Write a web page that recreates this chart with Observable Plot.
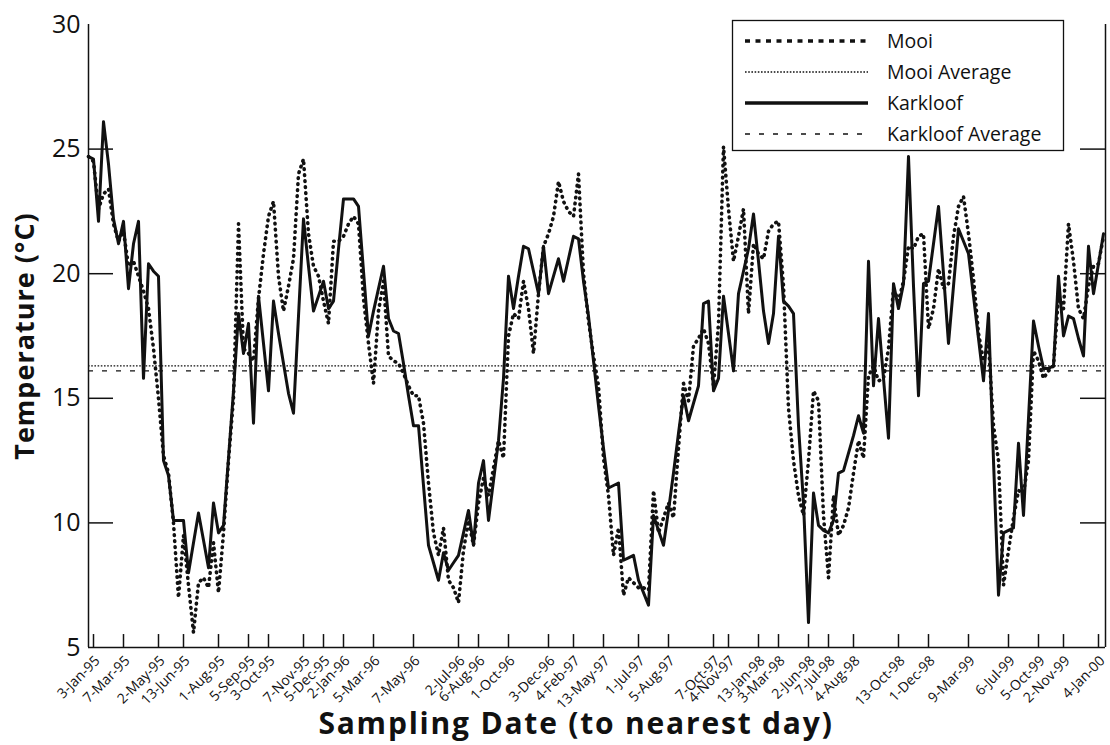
<!DOCTYPE html>
<html><head><meta charset="utf-8">
<script src="https://cdn.jsdelivr.net/npm/d3@7"></script>
<script src="https://cdn.jsdelivr.net/npm/@observablehq/plot@0.6"></script>
<style>
html,body{margin:0;padding:0;background:#fff;}
#wrap{position:relative;width:1110px;height:745px;overflow:hidden;}
#wrap svg{display:block;}
#legend{position:absolute;left:0;top:0;}
</style></head><body><div id="wrap"></div>
<script>
// Sampling occasions (index along the categorical date axis)
const mooi = [
  24.7, 24.5, 22.6, 23.2, 23.4, 22.0, 21.3, 21.7, 20.3, 20.5,
  19.9, 19.3, 18.6, 17.0, 15.0, 12.7, 12.0, 10.0, 7.0, 9.5,
  7.5, 5.6, 7.6, 7.8, 7.4, 9.2, 7.2, 9.6, 12.5, 15.0,
  22.0, 17.0, 16.8, 16.5, 19.0, 20.8, 22.3, 22.9, 19.9, 18.5,
  19.5, 20.6, 24.0, 24.6, 21.6, 20.3, 19.9, 18.9, 18.0, 21.3,
  21.3, 21.5, 22.0, 22.3, 22.0, 19.0, 17.2, 15.6, 18.5, 19.7,
  16.7, 16.5, 16.4, 16.0, 15.5, 15.1, 15.1, 14.0, 11.6, 9.6,
  8.7, 9.8, 7.7, 7.4, 6.8, 8.9, 10.1, 9.1, 10.8, 11.8,
  11.1, 12.2, 13.3, 12.6, 17.5, 18.4, 18.2, 19.7, 18.6, 16.8,
  19.2, 21.1, 21.6, 22.3, 23.7, 22.9, 22.5, 22.3, 24.0, 20.0,
  18.1, 16.7, 15.5, 12.6, 11.1, 8.7, 9.8, 7.1, 7.8, 7.6,
  7.4, 7.4, 7.3, 11.3, 9.6, 10.2, 10.8, 10.2, 13.0, 15.6,
  14.9, 17.1, 17.4, 17.8, 17.2, 15.5, 18.0, 25.1, 22.6, 20.5,
  21.5, 22.6, 18.4, 21.2, 20.8, 20.6, 21.7, 22.0, 22.1, 19.5,
  14.6, 12.5, 11.1, 10.3, 12.5, 15.3, 14.9, 10.3, 7.8, 11.1,
  9.5, 9.9, 10.6, 12.0, 13.3, 12.6, 15.9, 16.3, 15.7, 15.8,
  17.0, 19.4, 18.9, 19.7, 21.1, 21.0, 21.5, 21.6, 17.8, 18.6,
  20.2, 19.4, 19.6, 21.5, 22.7, 23.1, 21.6, 19.8, 17.6, 16.5,
  17.2, 13.9, 12.5, 7.5, 8.9, 10.2, 11.3, 11.2, 12.5, 16.9,
  16.5, 15.8, 16.1, 16.3, 19.1, 18.6, 22.0, 20.5, 18.6, 18.2,
  19.5, 20.3, 20.4, 21.5
];
const karkloof = [
  24.7, 24.6, 22.1, 26.1, 24.4, 22.2, 21.2, 22.1, 19.4, 21.2,
  22.1, 15.8, 20.4, 20.1, 19.9, 12.5, 11.9, 10.1, 10.1, 10.1,
  8.0, 9.2, 10.4, 9.3, 8.2, 10.8, 9.6, 9.9, 12.6, 15.3,
  18.4, 16.8, 18.0, 14.0, 19.1, 17.2, 15.3, 18.9, 17.6, 16.4,
  15.2, 14.4, 18.3, 22.2, 20.3, 18.5, 19.1, 19.7, 18.6, 18.9,
  21.0, 23.0, 23.0, 23.0, 22.7, 20.1, 17.5, 18.5, 19.4, 20.3,
  18.2, 17.7, 17.6, 16.4, 15.1, 13.9, 13.9, 11.5, 9.1, 8.4,
  7.7, 8.8, 8.1, 8.4, 8.7, 9.6, 10.5, 9.1, 11.6, 12.5,
  10.1, 11.7, 13.3, 15.8, 19.9, 18.6, 19.9, 21.1, 21.0, 20.1,
  19.2, 21.1, 19.2, 19.9, 20.6, 19.7, 20.6, 21.5, 21.4, 19.7,
  18.3, 16.5, 14.7, 13.0, 11.4, 11.5, 11.6, 8.5, 8.6, 8.7,
  7.7, 7.2, 6.7, 10.3, 9.7, 9.1, 10.5, 12.0, 13.6, 15.1,
  14.1, 14.8, 15.5, 18.8, 18.9, 15.3, 15.8, 19.1, 17.6, 16.1,
  19.2, 20.1, 21.0, 22.4, 20.5, 18.5, 17.2, 18.4, 21.5, 18.9,
  18.7, 18.4, 13.9, 10.8, 6.0, 11.2, 9.9, 9.7, 9.6, 10.1,
  12.0, 12.1, 12.8, 13.5, 14.3, 13.6, 20.5, 15.5, 18.2, 15.8,
  13.4, 19.6, 18.6, 19.6, 24.7, 19.5, 15.1, 19.6, 19.7, 21.2,
  22.7, 20.0, 17.2, 19.5, 21.8, 21.3, 20.8, 19.1, 17.4, 15.7,
  18.4, 12.5, 7.1, 9.6, 9.7, 9.8, 13.2, 10.3, 14.2, 18.1,
  17.1, 16.2, 16.2, 16.3, 19.9, 17.5, 18.3, 18.2, 17.4, 16.7,
  21.1, 19.2, 20.4, 21.6
];
const mooiAverage = 16.3;
const karkloofAverage = 16.1;

const tickIndex = [1, 7, 14, 19, 26, 32, 36, 43, 47, 51, 57, 65, 74, 78, 84, 92, 97,
  103, 110, 116, 125, 128, 134, 138, 144, 148, 153, 162, 168, 176, 184, 190, 195, 202];
const tickLabels = ["3-Jan-95", "7-Mar-95", "2-May-95", "13-Jun-95", "1-Aug-95", "5-Sep-95",
  "3-Oct-95", "7-Nov-95", "5-Dec-95", "2-Jan-96", "5-Mar-96", "7-May-96", "2-Jul-96",
  "6-Aug-96", "1-Oct-96", "3-Dec-96", "4-Feb-97", "13-May-97", "1-Jul-97", "5-Aug-97",
  "7-Oct-97", "4-Nov-97", "13-Jan-98", "3-Mar-98", "2-Jun-98", "7-Jul-98", "4-Aug-98",
  "13-Oct-98", "1-Dec-98", "9-Mar-99", "6-Jul-99", "5-Oct-99", "2-Nov-99", "4-Jan-00"];
const yTicks = [5, 10, 15, 20, 25, 30];
const yInnerTicks = [10, 15, 20, 25];
const seriesNames = ["Mooi", "Mooi Average", "Karkloof", "Karkloof Average"];

const xMax = 203.4;
const rows = mooi.map((m, i) => ({i, mooi: m, karkloof: karkloof[i]}));
const FONT = "'Open Sans', 'Noto Sans', sans-serif";
const INK = "#111";

const chart = Plot.plot({
  width: 1110, height: 745,
  marginLeft: 88, marginRight: 5, marginTop: 24, marginBottom: 98,
  x: {domain: [0, xMax], axis: null},
  y: {domain: [5, 30], axis: null},
  style: {fontFamily: FONT, background: "#fff", color: INK},
  marks: [
    Plot.ruleY([mooiAverage], {stroke: INK, strokeWidth: 1.3, strokeDasharray: "1.6,1.6"}),
    Plot.ruleY([karkloofAverage], {stroke: INK, strokeWidth: 1.3, strokeDasharray: "5,9"}),
    Plot.line(rows, {x: "i", y: "mooi", stroke: INK, strokeWidth: 3.6, strokeDasharray: "0.6,5.4", strokeLinecap: "round", strokeLinejoin: "round"}),
    Plot.line(rows, {x: "i", y: "karkloof", stroke: INK, strokeWidth: 3, strokeLinejoin: "round"}),
    // frame: left axis, right border, bottom axis
    Plot.ruleX([0], {stroke: INK, strokeWidth: 1.5}),
    Plot.ruleX([xMax], {stroke: INK, strokeWidth: 1.5}),
    Plot.ruleY([5], {stroke: INK, strokeWidth: 1.5}),
    // inward ticks
    Plot.ruleY(yInnerTicks, {x1: 0, x2: 5, stroke: INK, strokeWidth: 1.5}),
    Plot.ruleY(yInnerTicks, {x1: xMax - 5, x2: xMax, stroke: INK, strokeWidth: 1.5}),
    Plot.ruleX(tickIndex, {y1: 5, y2: 5.52, stroke: INK, strokeWidth: 1.5}),
    // tick labels
    Plot.text(yTicks, {x: 0, y: d => d, text: d => String(d), textAnchor: "end", dx: -8, fontSize: 25, fill: INK}),
    Plot.text(tickIndex, {x: d => d, y: 5, text: (d, i) => tickLabels[i], rotate: -45, textAnchor: "end", lineAnchor: "middle", dx: 4, dy: 11, fontSize: 14, fill: INK}),
    // axis titles
    Plot.text(["Temperature (°C)"], {frameAnchor: "left", dx: -63, rotate: -90, textAnchor: "middle", lineAnchor: "middle", fontSize: 27, fontWeight: "bold", fill: INK}),
    Plot.text(["Sampling Date (to nearest day)"], {frameAnchor: "bottom", dx: -21, dy: 77, textAnchor: "middle", lineAnchor: "middle", fontSize: 30, fontWeight: "bold", fill: INK})
  ]
});
const wrap = document.getElementById("wrap");
wrap.appendChild(chart);
// widen the axis titles a little (letter spacing) to match the reference
d3.select(chart).selectAll("text").filter(function() { return this.textContent === "Sampling Date (to nearest day)"; })
  .attr("letter-spacing", "1.8px");
d3.select(chart).selectAll("text").filter(function() { return this.textContent === "Temperature (°C)"; })
  .attr("letter-spacing", "1px");

// Legend box (inside plot area, top right)
const lg = d3.select(wrap).append("svg").attr("id", "legend")
  .attr("width", 1110).attr("height", 745)
  .style("pointer-events", "none");
lg.append("rect").attr("x", 732.5).attr("y", 20.5).attr("width", 331).attr("height", 130)
  .attr("fill", "#fff").attr("stroke", INK).attr("stroke-width", 1.3);
const legendStyles = [
  {w: 3.6, dash: "5,5.5", cap: "butt"},
  {w: 1.3, dash: "1.6,1.6", cap: "butt"},
  {w: 3.6, dash: null, cap: "butt"},
  {w: 1.3, dash: "5,9", cap: "butt"}
];
seriesNames.forEach((name, k) => {
  const cy = 41 + k * 31;
  lg.append("line").attr("x1", 745).attr("x2", 868).attr("y1", cy).attr("y2", cy)
    .attr("stroke", INK).attr("stroke-width", legendStyles[k].w)
    .attr("stroke-linecap", legendStyles[k].cap)
    .attr("stroke-dasharray", legendStyles[k].dash);
  lg.append("text").attr("x", 887).attr("y", cy).attr("dy", "0.35em")
    .attr("font-family", FONT).attr("font-size", 19.5).attr("fill", INK).text(name);
});
</script>
</body></html>
